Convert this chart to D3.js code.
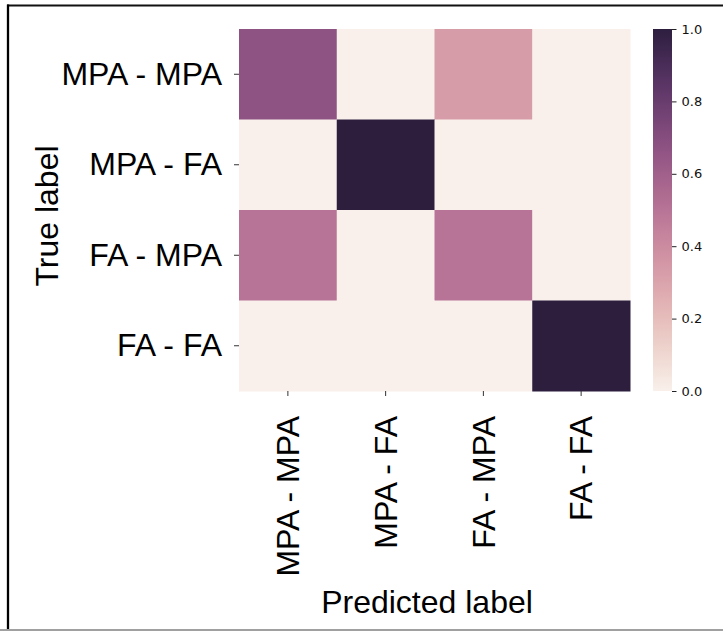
<!DOCTYPE html>
<html>
<head>
<meta charset="utf-8">
<script src="https://cdn.jsdelivr.net/npm/d3@7"></script>
<style>
  body { margin: 0; background: #fff; }
  svg { display: block; }
</style>
</head>
<body>
<div id="chart"></div>
<script>
// confusion matrix (rows = true label, columns = predicted label)
const labels = ["MPA - MPA", "MPA - FA", "FA - MPA", "FA - FA"];
const row0 = [0.67, 0.0, 0.33, 0.0];
const row1 = [0.0, 1.0, 0.0, 0.0];
const row2 = [0.5, 0.0, 0.5, 0.0];
const row3 = [0.0, 0.0, 0.0, 1.0];
const matrix = [row0, row1, row2, row3];
const cbarTicks = [0, 0.2, 0.4, 0.6, 0.8, 1.0];

const W = 723, H = 631;
const hm = { left: 239, top: 29, width: 391, height: 362 };
const cb = { left: 653, width: 19 };
const font = "'Liberation Sans', Arial, sans-serif";

// seaborn cubehelix_palette(light=.95, dark=.15, as_cmap=True)
function cubehelix(v) {
  const start = 0, rot = 0.4, gamma = 1, hue = 0.8, light = 0.95, dark = 0.15;
  const x = light + (dark - light) * v;
  const xg = Math.pow(x, gamma);
  const a = hue * xg * (1 - xg) / 2;
  const phi = 2 * Math.PI * (start / 3 + rot * x);
  const c = (p0, p1) => Math.round(255 * Math.max(0, Math.min(1, xg + a * (p0 * Math.cos(phi) + p1 * Math.sin(phi)))));
  return `rgb(${c(-0.14861, 1.78277)},${c(-0.29227, -0.90649)},${c(1.97294, 0)})`;
}

const svg = d3.select("#chart").append("svg")
  .attr("width", W).attr("height", H);

// figure frame
svg.append("line").attr("x1", 7).attr("x2", W).attr("y1", 5.5).attr("y2", 5.5)
  .attr("stroke", "#111").attr("stroke-width", 2);
svg.append("line").attr("x1", 8).attr("x2", 8).attr("y1", 4.5).attr("y2", H)
  .attr("stroke", "#000").attr("stroke-width", 2.3);
svg.append("line").attr("x1", 0).attr("x2", W).attr("y1", 630).attr("y2", 630)
  .attr("stroke", "#a0a0a0").attr("stroke-width", 2);

const x = d3.scaleBand().domain(labels).range([hm.left, hm.left + hm.width]);
const y = d3.scaleBand().domain(labels).range([hm.top, hm.top + hm.height]);
const color = d3.scaleSequential(cubehelix).domain([0, 1]);

// cells
const cells = [];
matrix.forEach((row, i) => row.forEach((v, j) => cells.push({ t: labels[i], p: labels[j], v })));

svg.append("g")
  .selectAll("rect")
  .data(cells)
  .enter()
  .append("rect")
  .attr("x", (d) => x(d.p))
  .attr("y", (d) => y(d.t))
  .attr("width", x.bandwidth() + 0.5)
  .attr("height", y.bandwidth() + 0.5)
  .attr("fill", (d) => color(d.v));

// y axis
const yAxis = svg.append("g")
  .attr("transform", `translate(${hm.left},0)`)
  .call(d3.axisLeft(y).tickSize(5).tickPadding(12));
yAxis.select(".domain").remove();
yAxis.selectAll("line").attr("stroke", "#333");
yAxis.selectAll("text")
  .attr("font-family", font)
  .attr("font-size", 32)
  .attr("fill", "#000");

// x axis
const xAxis = svg.append("g")
  .attr("transform", `translate(0,${hm.top + hm.height})`)
  .call(d3.axisBottom(x).tickSize(5));
xAxis.select(".domain").remove();
xAxis.selectAll("line").attr("stroke", "#333");
xAxis.selectAll("text")
  .attr("font-family", font)
  .attr("font-size", 32)
  .attr("fill", "#000")
  .attr("transform", "rotate(-90)")
  .attr("text-anchor", "end")
  .attr("x", -25)
  .attr("y", 0)
  .attr("dy", "0.35em");

// axis titles
svg.append("text")
  .attr("transform", "translate(47,216) rotate(-90)")
  .attr("text-anchor", "middle")
  .attr("dy", "0.35em")
  .attr("font-family", font)
  .attr("font-size", 32)
  .text("True label");

svg.append("text")
  .attr("x", 427)
  .attr("y", 613)
  .attr("text-anchor", "middle")
  .attr("font-family", font)
  .attr("font-size", 32)
  .text("Predicted label");

// colorbar
const cy = d3.scaleLinear().domain([0, 1]).range([hm.top + hm.height, hm.top]);
const grad = svg.append("defs").append("linearGradient")
  .attr("id", "cbar").attr("x1", 0).attr("x2", 0).attr("y1", 1).attr("y2", 0);
grad.selectAll("stop")
  .data(d3.range(0, 1.0001, 0.02))
  .enter()
  .append("stop")
  .attr("offset", (d) => d)
  .attr("stop-color", (d) => color(d));

svg.append("rect")
  .attr("x", cb.left)
  .attr("y", cy(1))
  .attr("width", cb.width)
  .attr("height", cy(0) - cy(1))
  .attr("fill", "url(#cbar)");

const cAxis = svg.append("g")
  .attr("transform", `translate(${cb.left + cb.width},0)`)
  .call(d3.axisRight(cy).tickValues(cbarTicks).tickFormat(d3.format(".1f")).tickSize(4.5).tickPadding(5));
cAxis.select(".domain").remove();
cAxis.selectAll("line").attr("stroke", "#222");
cAxis.selectAll("text")
  .attr("font-family", "'DejaVu Sans', sans-serif")
  .attr("font-size", 13)
  .attr("fill", "#111");
</script>
</body>
</html>
